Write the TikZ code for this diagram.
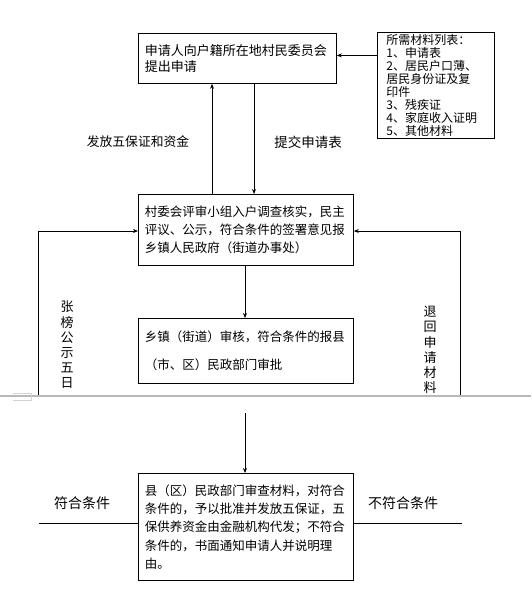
\documentclass[tikz,border=0pt]{standalone}
\usepackage{fontspec}
\setmainfont{Noto Sans CJK SC}
\usetikzlibrary{arrows.meta}
\begin{document}
\begin{tikzpicture}[x=1pt,y=-1pt,
  box/.style={draw, line width=0.8pt, anchor=north west, align=left, inner ysep=0pt},
  arr/.style={line width=0.8pt, -{Stealth[length=5pt,width=4pt]}},
  conn/.style={line width=0.8pt},
  lbl/.style={inner sep=0pt}]
\fill[white] (0,0) rectangle (531,605);
\useasboundingbox (0,0) rectangle (531,605);

% boxes
\node[box, text width=185pt, inner xsep=6.5pt, minimum height=50pt,
  font={\fontsize{13}{16}\selectfont}] (b1) at (138,33)
  {申请人向户籍所在地村民委员会\\提出申请};
\node[box, text width=99pt, inner xsep=9pt, minimum height=106pt,
  font={\fontsize{12}{13}\selectfont}] (list) at (377,32)
  {所需材料列表：\\1、申请表\\2、居民户口薄、\\居民身份证及复\\印件\\3、残疾证\\4、家庭收入证明\\5、其他材料};
\node[box, text width=202pt, inner xsep=6.5pt, minimum height=71pt,
  font={\fontsize{12.5}{18}\selectfont}] (b2) at (138,194)
  {村委会评审小组入户调查核实，民主\\评议、公示，符合条件的签署意见报\\乡镇人民政府（街道办事处）};
\node[box, text width=202pt, inner xsep=6.5pt, minimum height=65pt,
  font={\fontsize{12.5}{28}\selectfont}] (b3) at (138,318)
  {乡镇（街道）审核，符合条件的报县\\（市、区）民政部门审批};
\node[box, text width=202pt, inner xsep=6.5pt, minimum height=107pt,
  font={\fontsize{12.5}{18.3}\selectfont}] (b4) at (138,473)
  {县（区）民政部门审查材料，对符合\\条件的，予以批准并发放五保证，五\\保供养资金由金融机构代发；不符合\\条件的，书面通知申请人并说明理\\由。};

% labels
\node[lbl, font={\fontsize{12.8}{14}\selectfont}] (t1) at (138,142) {发放五保证和资金};
\node[lbl, font={\fontsize{13.5}{14}\selectfont}] (t2) at (308,142) {提交申请表};
\node[lbl, align=center, font={\fontsize{13}{15.2}\selectfont}] (t3) at (67,345) {张\\榜\\公\\示\\五\\日};
\node[lbl, align=center, font={\fontsize{13}{15.2}\selectfont}] (t4) at (430,350) {退\\回\\申\\请\\材\\料};
\node[lbl, font={\fontsize{14}{15}\selectfont}] (t5) at (82,503) {符合条件};
\node[lbl, font={\fontsize{14}{15}\selectfont}] (t6) at (403,503) {不符合条件};

% helper coordinates
\coordinate (ux) at (212,0);
\coordinate (dx) at (254,0);
\coordinate (mx) at (245,0);
\coordinate (c34) at (245,413);
\coordinate (lb) at (38,396);
\coordinate (lt) at (38,231);
\coordinate (rb) at (460,396);
\coordinate (rt) at (460,231);
\coordinate (l4) at (39,523);
\coordinate (r4) at (462,523);

% connectors
\draw[arr] ([yshift=3pt]list.west |- b1.east) -- ([yshift=3pt]b1.east);
\draw[arr] (b2.north -| ux) -- (b1.south -| ux);
\draw[arr] (b1.south -| dx) -- (b2.north -| dx);
\draw[arr] (b2.south -| mx) -- (b3.north -| mx);
\draw[arr] (c34) -- (b4.north -| c34);
\draw[arr] (lb) -- (lt) -- (lt -| b2.west);
\draw[arr] (rb) -- (rt) -- (rt -| b2.east);
\draw[conn] (l4) -- (l4 -| b4.west);
\draw[conn] (b4.east |- r4) -- (r4);

% page break mark
\draw[gray!55, line width=1.5pt] (0,396) -- (531,396);
\draw[gray!35, line width=0.6pt] (13,393) -- (31,393) -- (31,400) -- (13,400);
\end{tikzpicture}
\end{document}
